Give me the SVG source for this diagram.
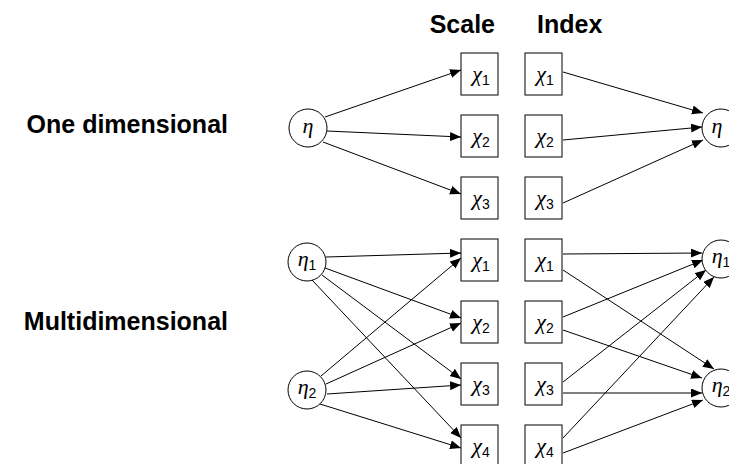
<svg xmlns="http://www.w3.org/2000/svg" width="729" height="464" viewBox="0 0 729 464">
<defs>
<marker id="ah" markerWidth="11" markerHeight="10" refX="11" refY="4.5" orient="auto" markerUnits="userSpaceOnUse">
<path d="M0,0 L11,4.5 L0,9 Z" fill="#000"/>
</marker>
<style>
.lbl{font-family:"Liberation Sans",Arial,sans-serif;font-weight:bold;font-size:25px;fill:#000}
.box{fill:#fff;stroke:#000;stroke-width:1}
.cir{fill:#fff;stroke:#000;stroke-width:1}
.sym{font-family:"Liberation Serif","Times New Roman",serif;font-style:italic;font-size:22px;fill:#000}
.sub{font-family:"Liberation Sans",Arial,sans-serif;font-style:normal;font-size:14px}
.edge{stroke:#000;stroke-width:1;fill:none;marker-end:url(#ah)}
</style>
</defs>
<rect width="729" height="464" fill="#fff"/>
<g id="labels">
<text class="lbl" x="495" y="33" text-anchor="end">Scale</text>
<text class="lbl" x="537" y="33">Index</text>
<text class="lbl" x="228" y="133" text-anchor="end">One dimensional</text>
<text class="lbl" x="228" y="330" text-anchor="end">Multidimensional</text>
</g>
<g id="connectors">
<line class="edge" x1="325" y1="117" x2="461" y2="70"/>
<line class="edge" x1="327" y1="131" x2="461" y2="137"/>
<line class="edge" x1="323" y1="142" x2="461" y2="194"/>
<line class="edge" x1="563" y1="72" x2="703" y2="113"/>
<line class="edge" x1="563" y1="140" x2="702" y2="127"/>
<line class="edge" x1="563" y1="203" x2="703" y2="140"/>
<line class="edge" x1="326" y1="257" x2="461" y2="253"/>
<line class="edge" x1="325" y1="268" x2="461" y2="318"/>
<line class="edge" x1="322" y1="275" x2="461" y2="379"/>
<line class="edge" x1="312" y1="280" x2="461" y2="438"/>
<line class="edge" x1="321" y1="376" x2="461" y2="258"/>
<line class="edge" x1="326" y1="384" x2="461" y2="323"/>
<line class="edge" x1="327" y1="394" x2="461" y2="385"/>
<line class="edge" x1="320" y1="404" x2="461" y2="448"/>
<line class="edge" x1="563" y1="254" x2="702" y2="253"/>
<line class="edge" x1="563" y1="270" x2="714" y2="369"/>
<line class="edge" x1="563" y1="317" x2="703" y2="260"/>
<line class="edge" x1="563" y1="330" x2="702" y2="378"/>
<line class="edge" x1="563" y1="382" x2="706" y2="270"/>
<line class="edge" x1="563" y1="393" x2="702" y2="393"/>
<line class="edge" x1="563" y1="438" x2="714" y2="277"/>
<line class="edge" x1="563" y1="453" x2="703" y2="400"/>
</g>
<g id="eta-one-scale"><circle class="cir" cx="308" cy="128" r="19"/><text class="sym" x="308" y="133" text-anchor="middle">η</text></g>
<g id="eta-one-index"><circle class="cir" cx="721" cy="128" r="19"/><text class="sym" x="717" y="133" text-anchor="middle">η</text></g>
<g id="eta1-multi-scale"><circle class="cir" cx="307" cy="262" r="19"/><text class="sym" x="307" y="266" text-anchor="middle">η<tspan class="sub" dy="4">1</tspan></text></g>
<g id="eta2-multi-scale"><circle class="cir" cx="307" cy="390" r="19"/><text class="sym" x="307" y="394" text-anchor="middle">η<tspan class="sub" dy="4">2</tspan></text></g>
<g id="eta1-multi-index"><circle class="cir" cx="721" cy="259" r="19"/><text class="sym" x="721" y="263" text-anchor="middle">η<tspan class="sub" dy="4">1</tspan></text></g>
<g id="eta2-multi-index"><circle class="cir" cx="721" cy="388" r="19"/><text class="sym" x="721" y="392" text-anchor="middle">η<tspan class="sub" dy="4">2</tspan></text></g>
<g id="s1"><rect class="box" x="461" y="53" width="37" height="42"/><text class="sym" x="481" y="81" text-anchor="middle">χ<tspan class="sub" dy="4">1</tspan></text></g>
<g id="s2"><rect class="box" x="461" y="115" width="37" height="42"/><text class="sym" x="481" y="143" text-anchor="middle">χ<tspan class="sub" dy="4">2</tspan></text></g>
<g id="s3"><rect class="box" x="461" y="177" width="37" height="42"/><text class="sym" x="481" y="205" text-anchor="middle">χ<tspan class="sub" dy="4">3</tspan></text></g>
<g id="i1"><rect class="box" x="525" y="53" width="37" height="42"/><text class="sym" x="545" y="81" text-anchor="middle">χ<tspan class="sub" dy="4">1</tspan></text></g>
<g id="i2"><rect class="box" x="525" y="115" width="37" height="42"/><text class="sym" x="545" y="143" text-anchor="middle">χ<tspan class="sub" dy="4">2</tspan></text></g>
<g id="i3"><rect class="box" x="525" y="177" width="37" height="42"/><text class="sym" x="545" y="205" text-anchor="middle">χ<tspan class="sub" dy="4">3</tspan></text></g>
<g id="ms1"><rect class="box" x="461" y="239" width="37" height="42"/><text class="sym" x="481" y="267" text-anchor="middle">χ<tspan class="sub" dy="4">1</tspan></text></g>
<g id="ms2"><rect class="box" x="461" y="301" width="37" height="42"/><text class="sym" x="481" y="329" text-anchor="middle">χ<tspan class="sub" dy="4">2</tspan></text></g>
<g id="ms3"><rect class="box" x="461" y="363" width="37" height="42"/><text class="sym" x="481" y="391" text-anchor="middle">χ<tspan class="sub" dy="4">3</tspan></text></g>
<g id="ms4"><rect class="box" x="461" y="425" width="37" height="42"/><text class="sym" x="481" y="453" text-anchor="middle">χ<tspan class="sub" dy="4">4</tspan></text></g>
<g id="mi1"><rect class="box" x="525" y="239" width="37" height="42"/><text class="sym" x="545" y="267" text-anchor="middle">χ<tspan class="sub" dy="4">1</tspan></text></g>
<g id="mi2"><rect class="box" x="525" y="301" width="37" height="42"/><text class="sym" x="545" y="329" text-anchor="middle">χ<tspan class="sub" dy="4">2</tspan></text></g>
<g id="mi3"><rect class="box" x="525" y="363" width="37" height="42"/><text class="sym" x="545" y="391" text-anchor="middle">χ<tspan class="sub" dy="4">3</tspan></text></g>
<g id="mi4"><rect class="box" x="525" y="425" width="37" height="42"/><text class="sym" x="545" y="453" text-anchor="middle">χ<tspan class="sub" dy="4">4</tspan></text></g>
</svg>
